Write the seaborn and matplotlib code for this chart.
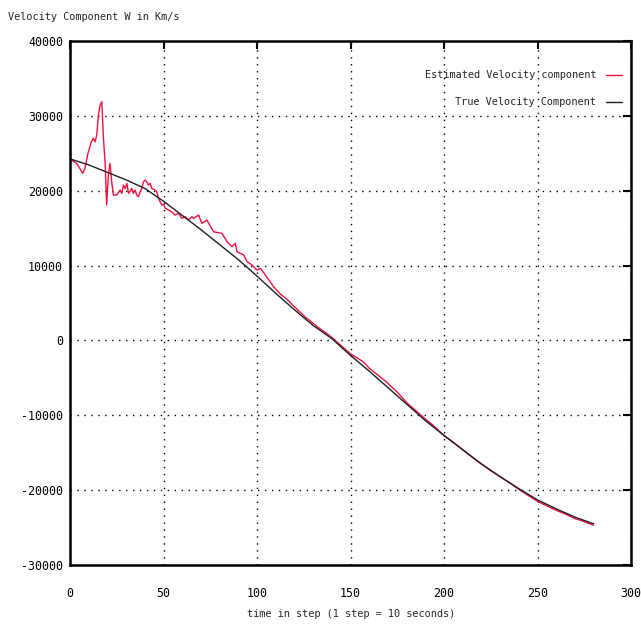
import numpy as np
import pandas as pd
import matplotlib
matplotlib.use("Agg")
import matplotlib.pyplot as plt
import seaborn as sns

# ---- data ----
true_steps = [0, 10, 20, 30, 40, 50, 60, 70, 80, 90, 100, 110, 120, 130, 140,
              150, 160, 170, 180, 190, 200, 210, 220, 230, 240, 250, 260, 270, 280]
true_vals = [24250, 23450, 22450, 21450, 20300, 18600, 16700, 14800, 12800, 10800,
             8600, 6300, 4100, 2000, 250, -2000, -4100, -6300, -8500, -10700,
             -12700, -14600, -16500, -18200, -19800, -21300, -22500, -23600, -24500]

est_steps = [0, 3.6, 6.8, 8, 9.6, 11.4, 12.5, 13.4, 14.3, 15.2, 16.1, 17, 17.9, 18.75,
             19.6, 20.5, 21.4, 22.3, 23.2, 25, 26.8, 27.7, 28.6, 29.5, 30.4, 31.3, 32,
             33, 33.9, 34.8, 35.7, 36.6, 37.5, 38.4, 39.3, 40.2, 41, 42, 42.9, 43.7,
             45.5, 46.4, 47.3, 48.2, 49.1, 50, 50.9, 52.7, 54.3, 56.1, 58, 59.8, 61.6,
             63.4, 65.2, 66.1, 68.8, 70.5, 73.2, 76.8, 81.3, 84, 86.6, 88.4, 89.3, 92.9,
             94.7, 97.3, 100, 101.8, 104.5, 108.9, 112.5, 116, 119.6, 125, 130.4, 134,
             137.5, 140, 145, 150, 154, 157, 160, 163, 166, 169, 172, 175, 180, 185,
             190, 194, 197, 200, 205, 210, 215, 220, 225, 230, 235, 240, 245, 250, 255,
             260, 265, 270, 275, 280]
est_vals = [24200, 23650, 22320, 22990, 25000, 26540, 27000, 26540, 27440, 30110, 31440,
            31890, 27000, 23870, 18090, 22090, 23650, 21200, 19420, 19420, 20090, 19650,
            20760, 20310, 20980, 19650, 19870, 20310, 19650, 20090, 19420, 19200, 19870,
            20310, 21200, 21430, 21200, 20760, 20980, 20310, 20090, 19870, 18980, 18530,
            18090, 18200, 17650, 17420, 17200, 16750, 16980, 16310, 16530, 16090, 16530,
            16310, 16750, 15640, 16080, 14520, 14300, 13180, 12520, 12970, 11850, 11410,
            10520, 10070, 9400, 9630, 8740, 7170, 6200, 5500, 4600, 3300, 2200, 1500,
            900, 400, -700, -1800, -2400, -2900, -3700, -4300, -4900, -5500, -6200,
            -6900, -8300, -9400, -10500, -11300, -12000, -12700, -13600, -14600, -15600,
            -16500, -17400, -18200, -19000, -19900, -20700, -21500, -22100, -22700,
            -23200, -23800, -24200, -24700]

x_ticks = [0, 50, 100, 150, 200, 250, 300]
y_ticks = [-30000, -20000, -10000, 0, 10000, 20000, 30000, 40000]

df = pd.concat([
    pd.DataFrame({"step": est_steps, "value": est_vals,
                  "series": "Estimated Velocity component"}),
    pd.DataFrame({"step": true_steps, "value": true_vals,
                  "series": "True Velocity Component"}),
])

sns.set_style("white")
plt.rcParams["font.family"] = ["DejaVu Sans Mono", "DejaVu Sans"]

fig = plt.figure(figsize=(6.41, 6.29), dpi=100)
ax = fig.add_axes([70 / 641, 1 - 565 / 629, 561 / 641, 524 / 629])

sns.lineplot(data=df, x="step", y="value", hue="series",
             palette={"Estimated Velocity component": "#f2103e",
                      "True Velocity Component": "#202020"},
             ax=ax, linewidth=1.0, estimator=None, sort=False)

ax.set_xlim(0, 300)
ax.set_ylim(-30000, 40000)
ax.set_xticks(x_ticks)
ax.set_yticks(y_ticks)
ax.set_xticklabels([str(t) for t in x_ticks])
ax.set_yticklabels([str(t) for t in y_ticks])
ax.tick_params(direction="in", length=6, width=1.5, top=True, right=True,
               labelsize=8.4, colors="black", pad=5)
ax.tick_params(axis="x", pad=16)
ax.grid(True, color="black", linestyle=(0, (1, 4)), linewidth=1.0)
for s in ax.spines.values():
    s.set_color("black")
    s.set_linewidth(1.8)

ax.set_xlabel("")
ax.set_ylabel("")
fig.text(8 / 641, 1 - 17 / 629, "Velocity Component W in Km/s", fontsize=7.4,
         ha="left", va="center")
fig.text(351 / 641, 1 - 614 / 629, "time in step (1 step = 10 seconds)",
         fontsize=7.4, ha="center", va="center")

leg = ax.legend(loc="upper right", frameon=False, markerfirst=False,
                fontsize=7.4, handlelength=1.5, handletextpad=1.0,
                borderaxespad=0.5, labelspacing=1.65,
                bbox_to_anchor=(1.0, 0.962))

fig.savefig("out.png", dpi=100, facecolor="white")
